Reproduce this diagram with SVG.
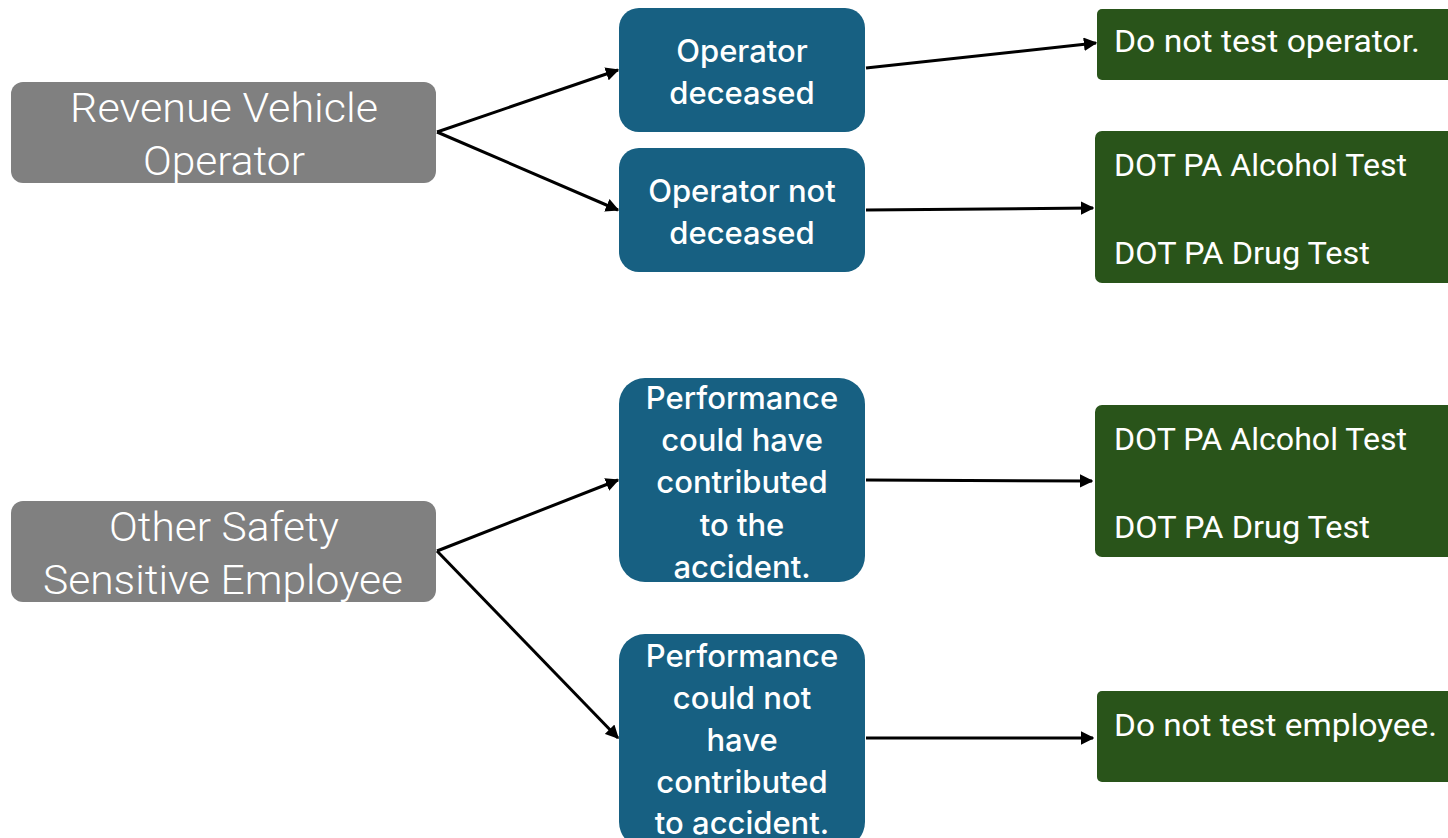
<svg xmlns="http://www.w3.org/2000/svg" width="1448" height="838" viewBox="0 0 1448 838">
  <style>
    .grey { fill: #808080; }
    .blue { fill: #176082; }
    .green { fill: #29541a; }
    .tg { font-family: Roboto, "Liberation Sans", sans-serif; font-weight: 300; font-size: 40px; fill: #ffffff; text-anchor: middle; }
    .tb { font-family: Inter, "Noto Sans", "Liberation Sans", sans-serif; font-weight: 500; font-size: 31px; fill: #ffffff; text-anchor: middle; }
    .tr { font-family: Roboto, "Liberation Sans", sans-serif; font-size: 32px; fill: #ffffff; }
    .edge { stroke: #000000; stroke-width: 3; fill: none; marker-end: url(#arrow); }
  </style>
  <defs>
    <marker id="arrow" viewBox="0 0 10 10" refX="9" refY="5" markerWidth="4.5" markerHeight="4.5" orient="auto" markerUnits="strokeWidth">
      <path d="M0,0 L10,5 L0,10 z" fill="#000000"/>
    </marker>
  </defs>
  <rect width="1448" height="838" fill="#ffffff"/>

  <!-- role nodes -->
  <g id="revenue-vehicle-operator">
    <rect class="grey" x="11" y="82" width="425" height="101" rx="12"/>
    <text class="tg" x="224" y="122" textLength="308" lengthAdjust="spacingAndGlyphs">Revenue Vehicle</text>
    <text class="tg" x="224" y="175" textLength="162" lengthAdjust="spacingAndGlyphs">Operator</text>
  </g>
  <g id="other-safety-sensitive">
    <rect class="grey" x="11" y="501" width="425" height="101" rx="12"/>
    <text class="tg" x="224" y="541" textLength="230" lengthAdjust="spacingAndGlyphs">Other Safety</text>
    <text class="tg" x="223" y="594" textLength="360" lengthAdjust="spacingAndGlyphs">Sensitive Employee</text>
  </g>

  <!-- condition nodes -->
  <g id="operator-deceased">
    <rect class="blue" x="619" y="8" width="246" height="124" rx="20"/>
    <text class="tb" x="742" y="62">Operator</text>
    <text class="tb" x="742" y="104">deceased</text>
  </g>
  <g id="operator-not-deceased">
    <rect class="blue" x="619" y="148" width="246" height="124" rx="20"/>
    <text class="tb" x="742" y="202">Operator not</text>
    <text class="tb" x="742" y="244">deceased</text>
  </g>
  <g id="could-have-contributed">
    <rect class="blue" x="619" y="378" width="246" height="204" rx="26"/>
    <text class="tb" x="742" y="409">Performance</text>
    <text class="tb" x="742" y="451">could have</text>
    <text class="tb" x="742" y="493">contributed</text>
    <text class="tb" x="742" y="536">to the</text>
    <text class="tb" x="742" y="578">accident.</text>
  </g>
  <g id="could-not-have-contributed">
    <rect class="blue" x="619" y="634" width="246" height="214" rx="26"/>
    <text class="tb" x="742" y="667">Performance</text>
    <text class="tb" x="742" y="709">could not</text>
    <text class="tb" x="742" y="751">have</text>
    <text class="tb" x="742" y="793">contributed</text>
    <text class="tb" x="742" y="834">to accident.</text>
  </g>

  <!-- outcome nodes -->
  <g id="do-not-test-operator">
    <rect class="green" x="1097" y="9" width="360" height="71" rx="5"/>
    <text class="tr" x="1114" y="52" textLength="306" lengthAdjust="spacingAndGlyphs">Do not test operator.</text>
  </g>
  <g id="tests-operator">
    <rect class="green" x="1095" y="131" width="360" height="152" rx="7"/>
    <text class="tr" x="1114" y="176" textLength="293" lengthAdjust="spacingAndGlyphs">DOT PA Alcohol Test</text>
    <text class="tr" x="1114" y="264" textLength="256" lengthAdjust="spacingAndGlyphs">DOT PA Drug Test</text>
  </g>
  <g id="tests-employee">
    <rect class="green" x="1095" y="405" width="360" height="152" rx="7"/>
    <text class="tr" x="1114" y="450" textLength="293" lengthAdjust="spacingAndGlyphs">DOT PA Alcohol Test</text>
    <text class="tr" x="1114" y="538" textLength="256" lengthAdjust="spacingAndGlyphs">DOT PA Drug Test</text>
  </g>
  <g id="do-not-test-employee">
    <rect class="green" x="1097" y="691" width="360" height="91" rx="5"/>
    <text class="tr" x="1114" y="736" textLength="323" lengthAdjust="spacingAndGlyphs">Do not test employee.</text>
  </g>

  <!-- connectors -->
  <g id="connectors">
    <line class="edge" x1="437" y1="132" x2="618" y2="70"/>
    <line class="edge" x1="437" y1="132" x2="618" y2="210"/>
    <line class="edge" x1="866" y1="68" x2="1096" y2="43"/>
    <line class="edge" x1="866" y1="210" x2="1093" y2="208"/>
    <line class="edge" x1="437" y1="551" x2="618" y2="480"/>
    <line class="edge" x1="437" y1="551" x2="618" y2="738"/>
    <line class="edge" x1="866" y1="480" x2="1092" y2="481"/>
    <line class="edge" x1="866" y1="738" x2="1093" y2="738"/>
  </g>
</svg>
